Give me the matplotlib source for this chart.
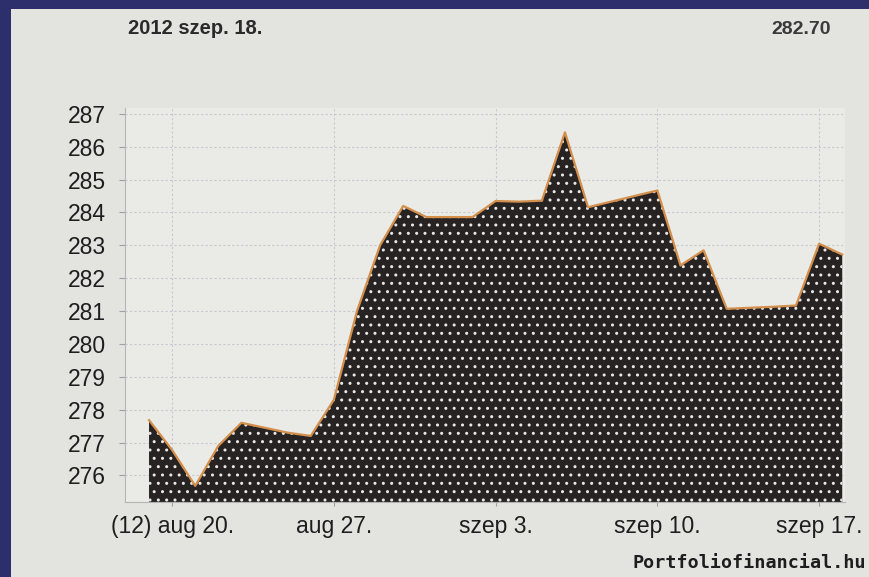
import matplotlib
matplotlib.use("Agg")
import matplotlib.pyplot as plt
import matplotlib.patches as mpatches
import numpy as np

# Daily closing values, 2012 aug 19 .. szep 18
dates = ["08-19", "08-20", "08-21", "08-22", "08-23", "08-24", "08-25", "08-26",
         "08-27", "08-28", "08-29", "08-30", "08-31", "09-01", "09-02", "09-03",
         "09-04", "09-05", "09-06", "09-07", "09-08", "09-09", "09-10", "09-11",
         "09-12", "09-13", "09-14", "09-15", "09-16", "09-17", "09-18"]
values = [277.68, 276.77, 275.68, 276.90, 277.60, 277.45, 277.30, 277.20,
          278.30, 281.00, 283.00, 284.20, 283.86, 283.86, 283.86, 284.35,
          284.33, 284.36, 286.44, 284.16, 284.33, 284.50, 284.67, 282.39,
          282.85, 281.07, 281.10, 281.13, 281.17, 283.05, 282.72]
tick_dates = ["08-20", "08-27", "09-03", "09-10", "09-17"]
tick_labels = ["(12) aug 20.", "aug 27.", "szep 3.", "szep 10.", "szep 17."]
y_ticks = list(range(276, 288))
title_left = "2012 szep. 18."
title_right = "282.70"
source = "Portfoliofinancial.hu"

W, H = 870, 577
fig = plt.figure(figsize=(W / 100, H / 100), dpi=100)
fig.patch.set_facecolor("#e3e3df")

# navy frame (left and top)
fig.patches.append(mpatches.Rectangle((0, 0), 11 / W, 1, transform=fig.transFigure,
                                      facecolor="#2d2f6c", edgecolor="none", zorder=-1))
fig.patches.append(mpatches.Rectangle((0, 1 - 9 / H), 1, 9 / H, transform=fig.transFigure,
                                      facecolor="#2d2f6c", edgecolor="none", zorder=-1))

ax = fig.add_axes([125 / W, 1 - 502 / H, (845 - 125) / W, (502 - 108) / H])
ax.set_facecolor("#eaeae7")

x = np.arange(len(values))
ax.fill_between(x, values, 270, facecolor="#272323", edgecolor="#e8e8e8",
                hatch="..", linewidth=0, zorder=2)
ax.plot(x, values, color="#d38f4c", lw=1.6, zorder=3)

ax.set_xlim(-1.04, len(values) - 1 + 0.12)
ax.set_ylim(275.19, 287.18)

ax.set_yticks(y_ticks)
ax.set_yticklabels([str(v) for v in y_ticks])
ax.set_xticks([dates.index(d) for d in tick_dates])
ax.set_xticklabels(tick_labels)

for lab in ax.get_xticklabels() + ax.get_yticklabels():
    lab.set_fontfamily(["Liberation Sans", "DejaVu Sans"])
    lab.set_fontsize(16.5)
    lab.set_color("#1e1e1e")

ax.tick_params(axis="y", length=4, width=0.8, color="#a0a0a0", pad=10)
ax.tick_params(axis="x", length=3, width=0.8, color="#a0a0a0", pad=6)

ax.grid(True, color="#c8c8d0", lw=0.8, linestyle=(0, (2, 2)), zorder=1)
ax.set_axisbelow(True)
for s in ["top", "right"]:
    ax.spines[s].set_visible(False)
for s in ["left", "bottom"]:
    ax.spines[s].set_color("#b5b5b5")
    ax.spines[s].set_linewidth(0.8)

fig.text(128 / W, 1 - 29 / H, title_left, ha="left", va="center",
         fontsize=14.5, fontweight="bold", color="#2a2a2a",
         family=["Liberation Sans", "DejaVu Sans"])
fig.text(831 / W, 1 - 29 / H, title_right, ha="right", va="center",
         fontsize=14, fontweight="bold", color="#3a3a3a",
         family=["Liberation Sans", "DejaVu Sans"])
fig.text(866 / W, 1 - 563 / H, source, ha="right", va="center",
         fontsize=13.2, fontweight="bold", color="#1e1e1e",
         family=["DejaVu Sans Mono", "Liberation Mono"])

fig.savefig("out.png", dpi=100, facecolor=fig.get_facecolor())
